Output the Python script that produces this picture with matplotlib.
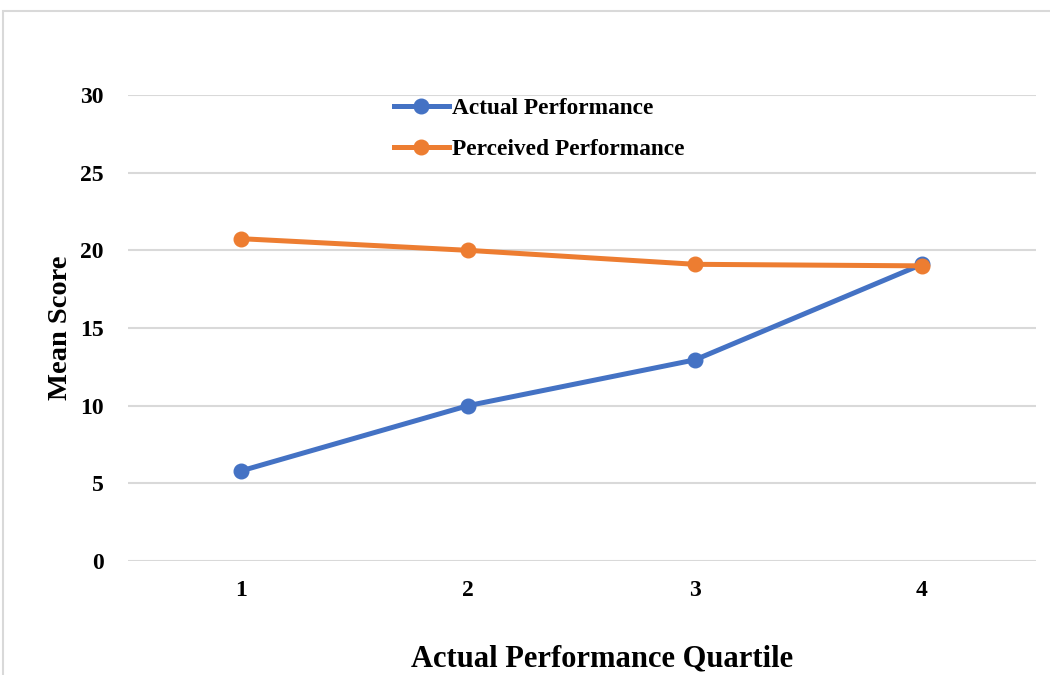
import matplotlib
matplotlib.use("Agg")
import matplotlib.pyplot as plt
from matplotlib.patches import Rectangle

quartiles = [1, 2, 3, 4]
actual = [5.8, 10.0, 12.95, 19.1]
perceived = [20.75, 20.0, 19.1, 19.0]
yticks = [0, 5, 10, 15, 20, 25, 30]

blue = "#4472C4"
orange = "#ED7D31"
grid = "#D9D9D9"

plt.rcParams['font.family'] = ['Liberation Serif', 'DejaVu Serif']
plt.rcParams['font.weight'] = 'bold'

fig = plt.figure(figsize=(10.5, 6.75), dpi=100)
ax = fig.add_axes([127.5 / 1050, 1 - 561 / 675, 908 / 1050, 466 / 675])

# chart border, cut off on right and bottom like the source
fig.patches.append(Rectangle((3 / 1050, -0.1), 1.2, 1 - 11 / 675 + 0.1,
                             transform=fig.transFigure, fill=False,
                             edgecolor=grid, linewidth=1.5))

ax.plot(quartiles, actual, color=blue, lw=3.6, marker='o', ms=10.5,
        label='Actual Performance', zorder=3)
ax.plot(quartiles, perceived, color=orange, lw=3.6, marker='o', ms=10.5,
        label='Perceived Performance', zorder=3)

ax.set_xlim(0.5, 4.5)
ax.set_ylim(0, 30)
ax.set_xticks(quartiles)
ax.set_yticks(yticks)
ax.yaxis.grid(True, color=grid, lw=1.5)
ax.set_axisbelow(True)
for s in ax.spines.values():
    s.set_visible(False)
ax.tick_params(length=0, labelsize=17)
ax.tick_params(axis='y', pad=17)
ax.tick_params(axis='x', pad=14)

ax.set_ylabel('Mean Score', fontsize=20.5, fontweight='bold', labelpad=5)
# title sits a little right of the plot centre in the source
ax.set_xlabel('Actual Performance Quartile', fontsize=22, fontweight='bold',
              labelpad=31, x=0.523)

ax.legend(loc='center left', bbox_to_anchor=(394 / 1050, 1 - 129 / 675),
          bbox_transform=fig.transFigure, frameon=False, fontsize=16.8,
          handlelength=2.35, handletextpad=0.15, labelspacing=0.85,
          borderpad=0, borderaxespad=0)

fig.savefig('out.png', dpi=100)
